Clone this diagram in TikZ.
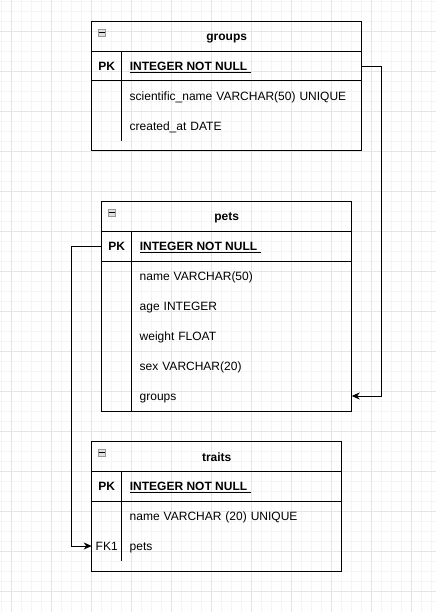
\documentclass[tikz,border=0pt]{standalone}
\usepackage{fontspec}
\setmainfont{Liberation Sans}
\usetikzlibrary{positioning, arrows.meta}

\tikzset{
  gridminor/.style={draw=gray!9, line width=0.8pt},
  gridmajor/.style={draw=gray!20, line width=0.8pt},
  tabtitle/.style={draw, line width=1pt, inner sep=0pt, outer sep=0pt, minimum height=30pt,
    text height=8.6pt, text depth=0pt, font=\fontsize{12}{14}\selectfont\bfseries},
  tabrow/.style={draw, line width=1pt, inner sep=0pt, outer sep=0pt, minimum height=29.3pt},
  tabbody/.style={draw, line width=1pt, inner sep=0pt, outer sep=0pt},
  keycol/.style={inner sep=0pt, text height=8.6pt, text depth=0pt, font=\fontsize{12}{14}\selectfont},
  field/.style={on grid, inner sep=0pt, text width=230pt, align=left,
    text height=8.6pt, text depth=0pt, font=\fontsize{12}{14}\selectfont},
  divider/.style={line width=1pt},
  minusbox/.style={draw=gray!80, fill=gray!25, line width=0.8pt, minimum size=7.5pt, inner sep=0pt, anchor=north west},
  link/.style={line width=1pt, -{Stealth[length=8pt,width=7pt,inset=2.5pt]}},
}
\newcommand{\pkey}{\underline{\textbf{INTEGER NOT NULL}\ }}

\begin{document}
\begin{tikzpicture}[x=1pt, y=-1pt, node distance=30pt]
   \useasboundingbox (0,0) rectangle (436,612);

   % grid
   \foreach \x in {1.7,11.7,...,435} \draw[gridminor] (\x,0) -- (\x,612);
   \foreach \y in {1.7,11.7,...,611} \draw[gridminor] (0,\y) -- (436,\y);
   \foreach \x in {11.7,51.7,...,435} \draw[gridmajor] (\x,0) -- (\x,612);
   \foreach \y in {31.7,71.7,...,611} \draw[gridmajor] (0,\y) -- (436,\y);

   % table groups
   \node[tabtitle, minimum width=270pt, anchor=north west] (g-title) at (91.7,21.7) {groups};
   \node[tabrow, minimum width=270pt, below=0pt of g-title] (g-pk) {};
   \node[tabbody, minimum width=270pt, minimum height=70pt, below=0pt of g-pk] (g-body) {};
   \node[minusbox] (g-minus) at ([xshift=6pt, yshift=-7pt]g-title.north west) {};
   \draw[line width=1.2pt] ([xshift=1.5pt]g-minus.west) -- ([xshift=-1.5pt]g-minus.east);
   \draw[divider] ([xshift=30pt]g-pk.north west) -- ([xshift=30pt, yshift=10pt]g-body.south west);
   \node[keycol, font=\fontsize{12}{14}\selectfont\bfseries] (g-key) at ([xshift=15pt]g-pk.west) {PK};
   \node[keycol, anchor=west] (g-id) at ([xshift=38pt]g-pk.west) {\pkey};
   \node[field] (g-name) at ([xshift=153pt, yshift=-15pt]g-body.north west) {scientific\_name VARCHAR(50) UNIQUE};
   \node[field, below=of g-name] (g-date) {created\_at DATE};

   % table pets
   \node[tabtitle, minimum width=250pt, anchor=north west] (p-title) at (101.7,201.7) {pets};
   \node[tabrow, minimum width=250pt, below=0pt of p-title] (p-pk) {};
   \node[tabbody, minimum width=250pt, minimum height=150pt, below=0pt of p-pk] (p-body) {};
   \node[minusbox] (p-minus) at ([xshift=6pt, yshift=-7pt]p-title.north west) {};
   \draw[line width=1.2pt] ([xshift=1.5pt]p-minus.west) -- ([xshift=-1.5pt]p-minus.east);
   \draw[divider] ([xshift=30pt]p-pk.north west) -- ([xshift=30pt]p-body.south west);
   \node[keycol, font=\fontsize{12}{14}\selectfont\bfseries] (p-key) at ([xshift=15pt]p-pk.west) {PK};
   \node[keycol, anchor=west] (p-id) at ([xshift=38pt]p-pk.west) {\pkey};
   \node[field] (p-name) at ([xshift=153pt, yshift=-15pt]p-body.north west) {name VARCHAR(50)};
   \node[field, below=of p-name] (p-age) {age INTEGER};
   \node[field, below=of p-age] (p-weight) {weight FLOAT};
   \node[field, below=of p-weight] (p-sex) {sex VARCHAR(20)};
   \node[field, below=of p-sex] (p-groups) {groups};

   % table traits
   \node[tabtitle, minimum width=250pt, anchor=north west] (t-title) at (91.7,441.7) {traits};
   \node[tabrow, minimum width=250pt, below=0pt of t-title] (t-pk) {};
   \node[tabbody, minimum width=250pt, minimum height=70pt, below=0pt of t-pk] (t-body) {};
   \node[minusbox] (t-minus) at ([xshift=6pt, yshift=-7pt]t-title.north west) {};
   \draw[line width=1.2pt] ([xshift=1.5pt]t-minus.west) -- ([xshift=-1.5pt]t-minus.east);
   \draw[divider] ([xshift=30pt]t-pk.north west) -- ([xshift=30pt, yshift=10pt]t-body.south west);
   \node[keycol, font=\fontsize{12}{14}\selectfont\bfseries] (t-key) at ([xshift=15pt]t-pk.west) {PK};
   \node[keycol, anchor=west] (t-id) at ([xshift=38pt]t-pk.west) {\pkey};
   \node[field] (t-name) at ([xshift=153pt, yshift=-15pt]t-body.north west) {name VARCHAR (20) UNIQUE};
   \node[field, below=of t-name] (t-pets) {pets};
   \node[keycol] (t-fk) at (t-pets -| t-key) {FK1};

   % relations
   \draw[link] (g-pk.east) -- ++(20,0) |- (p-groups -| p-body.east);
   \draw[link] (p-pk.west) -- ++(-30,0) |- (t-pets -| t-body.west);
\end{tikzpicture}
\end{document}
